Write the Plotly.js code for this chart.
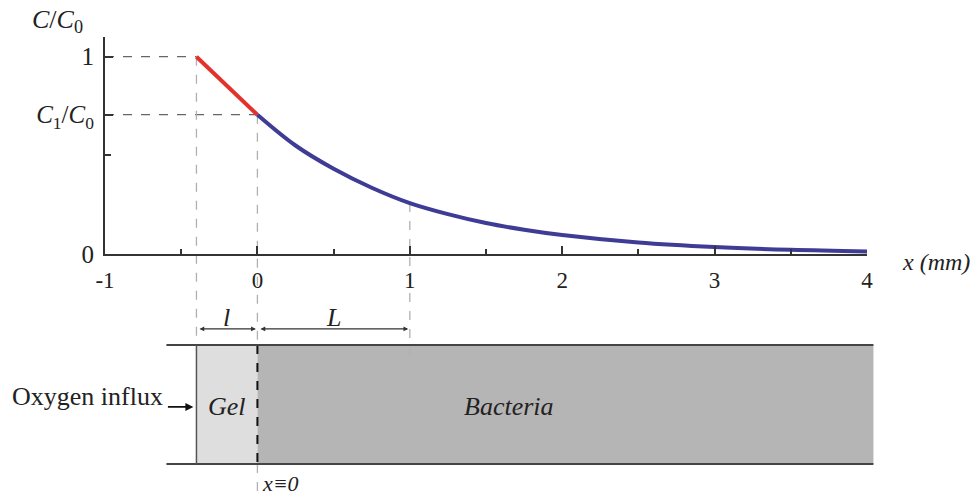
<!DOCTYPE html>
<html><head><meta charset="utf-8">
<script src="https://cdn.plot.ly/plotly-3.0.1.min.js"></script>
<style>html,body{margin:0;padding:0;background:#fff}#chart{width:976px;height:498px}</style>
</head><body><div id="chart"></div>
<script>
// ---- data ----
const gelX = [-0.4, -0.2, 0];
const gelY = [1.0, 0.853, 0.706];
const bacX = [0, 0.25, 0.5, 0.75, 1, 1.25, 1.5, 1.75, 2, 2.5, 3, 3.5, 4];
const bacY = [0.706, 0.55, 0.432, 0.336, 0.258, 0.202, 0.157, 0.123, 0.096, 0.058, 0.035, 0.021, 0.013];
const xTickVals = [-1, 0, 1, 2, 3, 4];
const xTickText = ['-1', '0', '1', '2', '3', '4'];
const yTickVals = [0, 0.706, 1];
const yTickText = ['0', '<i>C</i><sub>1</sub>/<i>C</i><sub>0</sub>', '1'];
const gelEdge = -0.4;      // x where gel starts
const c1Level = 0.706;     // C1/C0
const markL = 1;           // end of L
const markLY = 0.258;      // curve value at x = L
const boxTop = -0.461, boxBot = -1.064, boxLeft = -0.597, boxRight = 4.042;

const serif = "Liberation Serif, Times New Roman, serif";
const ink = '#333';

const traces = [
  {x: gelX, y: gelY, xaxis: 'x2', yaxis: 'y2', mode: 'lines', line: {color: '#e3312b', width: 4}, hoverinfo: 'skip'},
  {x: bacX, y: bacY, xaxis: 'x2', yaxis: 'y2', mode: 'lines', line: {color: '#3f3c95', width: 4, shape: 'spline'}, hoverinfo: 'skip'}
];

const dashH = {color: '#666', width: 1.3, dash: 'dash'};
const dashV = {color: '#b0b0b0', width: 1.3, dash: 'dash'};
const shapes = [
  {type: 'rect', xref: 'x', yref: 'y', x0: gelEdge, x1: 0, y0: boxBot, y1: boxTop, fillcolor: '#dedede', line: {width: 0}, layer: 'below'},
  {type: 'rect', xref: 'x', yref: 'y', x0: 0, x1: boxRight, y0: boxBot, y1: boxTop, fillcolor: '#b5b5b5', line: {width: 0}, layer: 'below'},
  {type: 'line', xref: 'x', yref: 'y', x0: -1, x1: gelEdge, y0: 1, y1: 1, line: dashH, layer: 'below'},
  {type: 'line', xref: 'x', yref: 'y', x0: -1, x1: 0, y0: c1Level, y1: c1Level, line: dashH, layer: 'below'},
  {type: 'line', xref: 'x', yref: 'y', x0: gelEdge, x1: gelEdge, y0: 1, y1: boxTop, line: dashV, layer: 'below'},
  {type: 'line', xref: 'x', yref: 'y', x0: 0, x1: 0, y0: c1Level, y1: boxTop, line: dashV, layer: 'below'},
  {type: 'line', xref: 'x', yref: 'y', x0: 0, x1: 0, y0: boxBot, y1: -1.24, line: dashV, layer: 'below'},
  {type: 'line', xref: 'x', yref: 'y', x0: markL, x1: markL, y0: markLY, y1: -0.573, line: dashV, layer: 'below'},
  {type: 'line', xref: 'x', yref: 'y', x0: 0, x1: 0, y0: boxTop, y1: boxBot, line: {color: '#111', width: 2, dash: 'dash'}, layer: 'below'},
  {type: 'line', xref: 'x', yref: 'y', x0: boxLeft, x1: boxRight, y0: boxTop, y1: boxTop, line: {color: '#444', width: 2}},
  {type: 'line', xref: 'x', yref: 'y', x0: boxLeft, x1: boxRight, y0: boxBot, y1: boxBot, line: {color: '#444', width: 2}},
  {type: 'line', xref: 'x', yref: 'y', x0: gelEdge, x1: gelEdge, y0: boxTop, y1: boxBot, line: {color: '#555', width: 1.5}}
];

function txt(x, y, text, size, extra) {
  return Object.assign({xref: 'x', yref: 'y', x: x, y: y, text: text, showarrow: false,
    font: {family: serif, size: size, color: '#222'}}, extra || {});
}
function arr(xh, yh, xt, yt, extra) {
  return Object.assign({xref: 'x', yref: 'y', axref: 'x', ayref: 'y', x: xh, y: yh, ax: xt, ay: yt, text: '',
    showarrow: true, arrowhead: 2, arrowsize: 0.8, arrowwidth: 1.2, arrowcolor: '#333', standoff: 0, startstandoff: 0}, extra || {});
}
const annotations = [
  txt(-1.49, 1.18, '<i>C</i>/<i>C</i><sub>0</sub>', 26, {xanchor: 'left'}),
  txt(4.215, -0.04, '<i>x (mm)</i>', 24, {xanchor: 'left'}),
  txt(-0.2, -0.32, '<i>l</i>', 26),
  txt(0.5, -0.32, '<i>L</i>', 26),
  arr(-0.01, -0.38, -0.39, -0.38, {arrowside: 'end+start', startarrowhead: 2, startarrowsize: 0.8}),
  arr(0.99, -0.38, 0.01, -0.38, {arrowside: 'end+start', startarrowhead: 2, startarrowsize: 0.8}),
  txt(-0.605, -0.72, 'Oxygen influx', 26, {xanchor: 'right'}),
  arr(-0.42, -0.775, -0.597, -0.775, {arrowhead: 2, arrowsize: 1, arrowwidth: 1.6, arrowcolor: '#111'}),
  txt(-0.2, -0.775, '<i>Gel</i>', 26),
  txt(1.654, -0.775, '<i>Bacteria</i>', 26),
  txt(0.02, -1.165, '<i>x≡0</i>', 22, {xanchor: 'left'})
];

const layout = {
  width: 976, height: 498,
  margin: {l: 0, r: 0, t: 0, b: 0},
  paper_bgcolor: '#fff', plot_bgcolor: 'rgba(0,0,0,0)',
  showlegend: false,
  xaxis: {domain: [0, 1], range: [-1.689, 4.715], visible: false, fixedrange: true},
  yaxis: {domain: [0, 1], range: [-1.2367, 1.2874], visible: false, fixedrange: true},
  xaxis2: {domain: [105 / 976, 867 / 976], range: [-1, 4], anchor: 'y2', showline: true, linecolor: ink, linewidth: 2,
    showgrid: false, zeroline: false, ticks: 'inside', ticklen: 8, tickwidth: 2, tickcolor: ink,
    tickmode: 'array', tickvals: xTickVals, ticktext: xTickText, ticklabelstandoff: 4,
    tickfont: {family: serif, size: 23, color: '#222'},
    minor: {ticks: 'inside', ticklen: 5, tickwidth: 2, tickcolor: ink, dtick: 0.5, tick0: -1, showgrid: false}},
  yaxis2: {domain: [1 - 254 / 498, 1 - 37 / 498], range: [0, 1.1], anchor: 'x2', showline: true, linecolor: ink, linewidth: 2,
    showgrid: false, zeroline: false, ticks: 'inside', ticklen: 8, tickwidth: 2, tickcolor: ink,
    tickmode: 'array', tickvals: yTickVals, ticktext: yTickText, ticklabelstandoff: 4,
    tickfont: {family: serif, size: 25, color: '#222'},
    minor: {ticks: 'inside', ticklen: 6, tickwidth: 2, tickcolor: ink, dtick: 0.5, tick0: 0, showgrid: false}},
  shapes: shapes,
  annotations: annotations
};

Plotly.newPlot('chart', traces, layout, {displayModeBar: false, staticPlot: true});
</script>
</body></html>
